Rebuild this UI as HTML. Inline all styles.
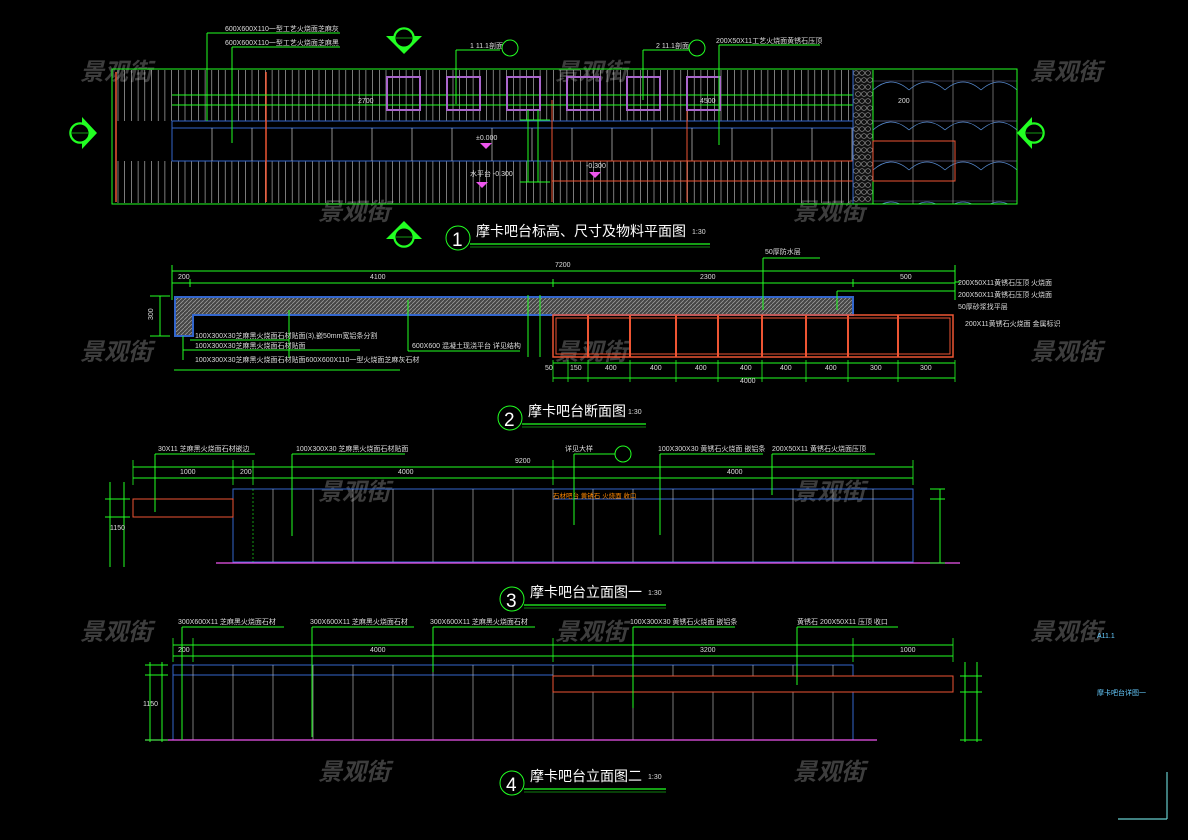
<!DOCTYPE html>
<html><head><meta charset="utf-8">
<style>
html,body{margin:0;padding:0;background:#000;width:1188px;height:840px;overflow:hidden}
svg{display:block}
.t{font-family:"Liberation Sans","Noto Sans CJK SC",sans-serif;fill:#fff}
.wm{font-family:"Liberation Sans","Noto Sans CJK SC",sans-serif;fill:#3d3d3d;font-size:24px;font-style:italic;font-weight:bold}
.s{font-size:7px;fill:#ddd;font-family:"Liberation Sans","Noto Sans CJK SC",sans-serif}
</style></head><body>
<svg id="d" width="1188" height="840" viewBox="0 0 1188 840" xmlns="http://www.w3.org/2000/svg">
<defs>
<pattern id="h" width="4" height="4" patternUnits="userSpaceOnUse"><rect width="4" height="4" fill="#444"/><path d="M0 4L4 0" stroke="#999" stroke-width="0.8"/></pattern>
<clipPath id="wc"><rect x="873" y="70" width="144" height="134"/></clipPath>
</defs>
<g id="g"></g>
</svg>
<script>
var g=document.getElementById('g'),o='';
function L(x1,y1,x2,y2,c,w,ex){o+='<line x1="'+x1+'" y1="'+y1+'" x2="'+x2+'" y2="'+y2+'" stroke="'+c+'" stroke-width="'+(w||1)+'" '+(ex||'')+'/>';}
function R(x,y,w,h,c,f,sw){o+='<rect x="'+x+'" y="'+y+'" width="'+w+'" height="'+h+'" stroke="'+c+'" fill="'+(f||'none')+'" stroke-width="'+(sw||1)+'"/>';}
function T(x,y,s,txt,cl,ex){o+='<text x="'+x+'" y="'+y+'" font-size="'+s+'" class="'+(cl||'t')+'" '+(ex||'')+'>'+txt+'</text>';}
var G='#2f2',W='#ccc',B='#36c',O='#e53',M='#e5e',P='#a6c';
[[80,70],[555,70],[1030,70],[318,210],[793,210],[80,350],[555,350],[1030,350],[318,490],[793,490],[80,630],[555,630],[1030,630],[318,770],[793,770]].forEach(function(p){T(p[0],p[1]+10,24,'景观街','wm');});
// ===== PLAN 1 =====
for(var x=118;x<853;x+=6.7){L(x,70,x,121,W,0.6);L(x,161,x,203,W,0.6);}
o+='<rect x="172" y="121" width="681" height="40" fill="#000"/>';
R(172,121,681,40,B);L(172,128,853,128,B);
for(var x=212;x<853;x+=40)L(x,128,x,161,W,0.7);
L(116,72,116,202,O,1.5);L(266,72,266,202,O,1.5);L(552,100,552,202,O,1);L(687,100,687,202,O,1);
L(172,95,853,95,G);L(172,105,853,105,G);
[387,447,507,567,627,687].forEach(function(x){R(x,77,33,33,P,'none',2);});
R(552,161,301,20,O);
o+='<rect x="853" y="70" width="20" height="134" fill="#111"/>';
for(var y=73;y<204;y+=7)for(var x=856;x<872;x+=6){o+='<ellipse cx="'+(x+(Math.round(y/7)%2)*2)+'" cy="'+y+'" rx="2.6" ry="2.3" fill="none" stroke="#999" stroke-width="0.6"/>';}
L(853,70,853,204,B);L(873,70,873,204,G);
o+='<g clip-path="url(#wc)">';
for(var y=81;y<204;y+=40)L(873,y,1017,y,'#668',0.6);
L(873,121,1017,121,'#668',0.6);L(873,161,1017,161,'#668',0.6);
for(var x=913;x<1017;x+=40)L(x,70,x,204,W,0.5);
for(var y=90;y<215;y+=40)for(var x=873;x<1017;x+=36){o+='<path d="M'+x+' '+y+'Q'+(x+18)+' '+(y-16)+' '+(x+36)+' '+y+'" fill="none" stroke="#58c" stroke-width="0.8"/>';}
o+='</g>';
R(873,141,82,40,O);
R(112,69,905,135,G,'none',1);
L(207,33,207,121,G);L(207,33,340,33,G);L(232,47,232,143,G);L(232,47,340,47,G);
T(225,31,6,'600X600X110一型工艺火烧面芝麻灰','s');T(225,45,6,'600X600X110一型工艺火烧面芝麻黑','s');
L(456,50,456,104,G);L(456,50,500,50,G);T(470,48,6,'1 11.1剖面','s');
o+='<circle cx="510" cy="48" r="8" stroke="'+G+'" fill="none"/>';
L(643,50,643,100,G);L(643,50,690,50,G);T(656,48,6,'2 11.1剖面','s');o+='<circle cx="697" cy="48" r="8" stroke="'+G+'" fill="none"/>';
L(719,45,719,145,G);L(719,45,820,45,G);T(716,43,6,'200X50X11工艺火烧面黄锈石压顶','s');
T(358,103,6,'2700','s');T(700,103,6,'4500','s');T(898,103,6,'200','s');
[[486,143],[595,172],[482,182]].forEach(function(p){o+='<path d="M'+(p[0]-6)+' '+p[1]+'L'+(p[0]+6)+' '+p[1]+'L'+p[0]+' '+(p[1]+6)+'Z" fill="'+M+'"/>';});
T(476,140,6,'±0.000','s');T(586,168,6,'-0.300','s');T(470,176,6,'水平台 -0.300','s');
L(528,110,528,182,G);L(538,110,538,182,G);L(520,120,550,120,G);L(520,182,550,182,G);
function mark(cx,cy,up,side){o+='<circle cx="'+cx+'" cy="'+cy+'" r="10" stroke="'+G+'" fill="none" stroke-width="1.5"/>';
 if(side=='l')o+='<path d="M'+(cx+2)+' '+(cy-16)+'L'+(cx+17)+' '+cy+'L'+(cx+2)+' '+(cy+16)+'Z" fill="'+G+'"/>';
 else if(side=='r')o+='<path d="M'+(cx-2)+' '+(cy-16)+'L'+(cx-17)+' '+cy+'L'+(cx-2)+' '+(cy+16)+'Z" fill="'+G+'"/>';
 else if(up)o+='<path d="M'+(cx-18)+' '+(cy+2)+'L'+(cx+18)+' '+(cy+2)+'L'+cx+' '+(cy-16)+'Z" fill="'+G+'"/>';
 else o+='<path d="M'+(cx-18)+' '+(cy-2)+'L'+(cx+18)+' '+(cy-2)+'L'+cx+' '+(cy+16)+'Z" fill="'+G+'"/>';
 o+='<circle cx="'+cx+'" cy="'+cy+'" r="9" fill="#000" stroke="'+G+'"/>';L(cx-8,cy,cx+8,cy,G,0.6);}
mark(404,38,0);mark(404,237,1);mark(80,133,0,'l');mark(1034,133,0,'r');
function title(cx,cy,n,txt,sx){o+='<circle cx="'+cx+'" cy="'+cy+'" r="12" stroke="'+G+'" fill="none"/>';T(cx-6,cy+8,19,n,'t');T(cx+18,cy-2,14,txt);T(sx,cy-4,8,'1:30','s');L(cx+12,cy+6,sx+18,cy+6,G,1.2);L(cx+12,cy+9,sx+18,cy+9,G,0.6);}
title(458,238,'1','摩卡吧台标高、尺寸及物料平面图',692);
// ===== SECTION 2 =====
L(172,271,955,271,G);L(172,283,955,283,G);L(172,265,172,300,G);L(955,265,955,300,G);L(190,279,190,287,G);L(553,279,553,287,G);L(853,279,853,287,G);
T(178,279,6,'200','s');T(370,279,6,'4100','s');T(700,279,6,'2300','s');T(900,279,6,'500','s');T(555,267,6,'7200','s');
o+='<path d="M175 297H853V315H193V336H175Z" fill="url(#h)" stroke="'+B+'" stroke-width="2"/>';
R(553,315,400,42,O,'none',1.5);R(556,318,394,36,O,'none',1);
[588,630,676,718,762,806,848,898].forEach(function(x){L(x,315,x,357,O,2);});
L(160,296,160,336,G);L(150,296,170,296,G);L(150,336,170,336,G);T(148,325,6,'300','s',' transform="rotate(-90 148 320)"');
L(528,295,528,357,G);L(540,295,540,357,G);L(553,363,955,363,G);L(553,378,955,378,G);
[553,568,588,630,676,718,762,806,848,898,955].forEach(function(x,i){L(x,360,x,382,G,0.8);});
T(545,370,6,'50','s');T(570,370,6,'150','s');T(605,370,6,'400','s');T(650,370,6,'400','s');T(695,370,6,'400','s');T(740,370,6,'400','s');T(780,370,6,'400','s');T(825,370,6,'400','s');T(870,370,6,'300','s');T(920,370,6,'300','s');T(740,383,6,'4000','s');
L(289,310,289,358,G);L(190,340,289,340,G);L(183,350,360,350,G);L(174,370,400,370,G);L(183,336,183,360,G);
T(195,338,5.5,'100X300X30芝麻黑火烧面石材贴面(3),嵌50mm宽铝条分割','s');T(195,348,5.5,'100X300X30芝麻黑火烧面石材贴面','s');T(195,362,5.5,'100X300X30芝麻黑火烧面石材贴面600X600X110一型火烧面芝麻灰石材','s');
L(408,300,408,351,G);L(408,351,520,351,G);T(412,348,5.5,'600X600  混凝土现浇平台 详见结构','s');
L(763,258,763,310,G);L(763,258,820,258,G);T(765,254,5.5,'50厚防水层','s');
L(837,291,955,291,G);L(837,291,837,310,G);L(955,282,960,282,G);T(958,285,5.5,'200X50X11黄锈石压顶 火烧面','s');T(958,297,5.5,'200X50X11黄锈石压顶 火烧面','s');T(958,309,5.5,'50厚砂浆找平层','s');T(965,326,5.5,'200X11黄锈石火烧面 金属标识','s');
title(510,418,'2','摩卡吧台断面图',628);
// ===== ELEVATION 3 =====
L(133,467,913,467,G);L(133,478,913,478,G);[133,233,253,553,913].forEach(function(x){L(x,460,x,485,G,0.8);});
T(180,474,6,'1000','s');T(240,474,6,'200','s');T(398,474,6,'4000','s');T(727,474,6,'4000','s');T(515,463,6,'9200','s');
R(233,489,680,73,B);L(553,499,913,499,B);
for(var x=273;x<913;x+=40)L(x,489,x,562,W,0.6);
L(253,489,253,562,G,0.6,'stroke-dasharray="2 2"');
R(133,499,100,18,O);L(216,563,960,563,M,1.2);
T(553,498,6.5,'石材吧台 黄锈石 火烧面 收口','t',' style="fill:#f80"');
L(110,482,110,567,G);L(124,482,124,567,G);L(105,499,130,499,G);L(105,517,130,517,G);T(110,530,6,'1150','s');
L(940,489,940,563,G);L(930,489,945,489,G);L(930,499,945,499,G);L(930,563,945,563,G);
L(155,454,155,512,G);L(155,454,255,454,G);T(158,451,5.5,'30X11 芝麻黑火烧面石材嵌边','s');
L(292,454,292,536,G);L(292,454,405,454,G);T(296,451,5.5,'100X300X30 芝麻黑火烧面石材贴面','s');
L(574,454,574,525,G);L(574,454,615,454,G);o+='<circle cx="623" cy="454" r="8" stroke="'+G+'" fill="none"/>';T(565,451,5.5,'详见大样','s');
L(660,454,660,535,G);L(660,454,763,454,G);T(658,451,5.5,'100X300X30 黄锈石火烧面 嵌铝条','s');
L(772,454,772,495,G);L(772,454,875,454,G);T(772,451,5.5,'200X50X11 黄锈石火烧面压顶','s');
title(512,599,'3','摩卡吧台立面图一',648);
// ===== ELEVATION 4 =====
L(173,645,953,645,G);L(173,656,953,656,G);[173,193,553,853,953].forEach(function(x){L(x,638,x,662,G,0.8);});
T(178,652,6,'200','s');T(370,652,6,'4000','s');T(700,652,6,'3200','s');T(900,652,6,'1000','s');
R(173,665,680,75,B);L(173,675,553,675,B);
for(var x=193;x<853;x+=40)L(x,665,x,740,W,0.6);
o+='<rect x="553" y="676" width="400" height="16" fill="#000" stroke="'+O+'"/>';
L(145,740,877,740,M,1.2);
L(150,662,150,742,G);L(162,662,162,742,G);L(145,665,168,665,G);L(145,675,168,675,G);L(145,740,168,740,G);T(143,706,6,'1150','s');
L(965,662,965,742,G);L(977,662,977,742,G);L(960,676,982,676,G);L(960,692,982,692,G);L(960,740,982,740,G);
L(182,627,182,740,G);L(182,627,284,627,G);T(178,624,5.5,'300X600X11 芝麻黑火烧面石材','s');
L(312,627,312,737,G);L(312,627,414,627,G);T(310,624,5.5,'300X600X11 芝麻黑火烧面石材','s');
L(433,627,433,672,G);L(433,627,535,627,G);T(430,624,5.5,'300X600X11 芝麻黑火烧面石材','s');
L(633,627,633,708,G);L(633,627,735,627,G);T(630,624,5.5,'100X300X30 黄锈石火烧面 嵌铝条','s');
L(797,627,797,685,G);L(797,627,898,627,G);T(797,624,5.5,'黄锈石 200X50X11 压顶 收口','s');
title(512,783,'4','摩卡吧台立面图二',648);
T(1097,638,7,'A11.1','s',' style="fill:#6cf"');T(1097,695,7,'摩卡吧台详图一','s',' style="fill:#6cf"');
L(1167,772,1167,819,'#6cc',1.2);L(1118,819,1167,819,'#6cc',1.2);
g.innerHTML=o;
</script>
</body></html>
